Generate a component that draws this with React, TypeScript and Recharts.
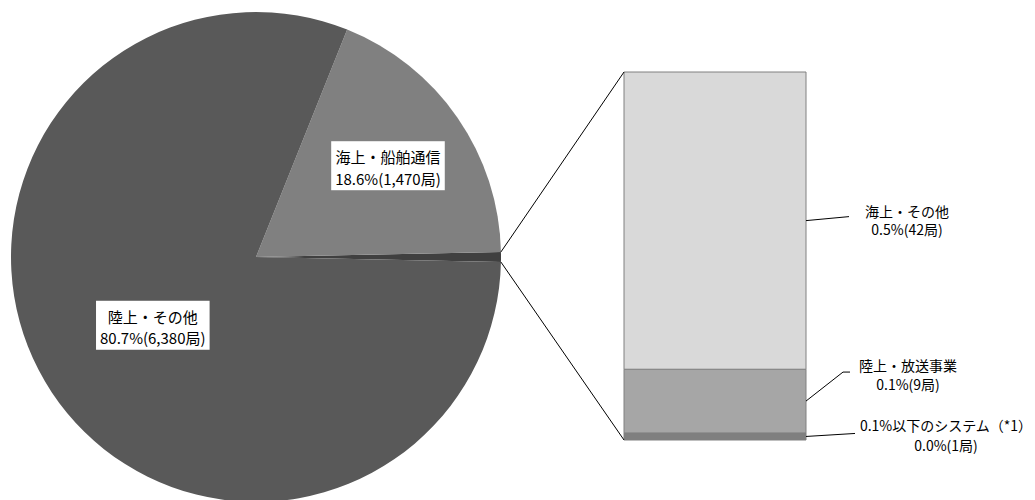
import React from 'react'
import { PieChart, Pie, Cell, BarChart, Bar, XAxis, YAxis } from 'recharts'

const W = 1035
const H = 500
const FONT = "'Noto Sans CJK JP', 'Noto Sans CJK SC', sans-serif"

// 円グラフ: 先頭の「その他」が右側の棒に展開される
const mainNames = ['海上・船舶通信', '陸上・その他']
const mainCounts = [1470, 6380]
const mainColors = ['#808080', '#595959']
const otherColor = '#404040'

// 棒グラフ (下から積み上げ)
const detailNames = ['0.1%以下のシステム（*1）', '陸上・放送事業', '海上・その他']
const detailCounts = [1, 9, 42]
const detailColors = ['#7f7f7f', '#a6a6a6', '#d9d9d9']

const otherTotal = detailCounts.reduce((s, v) => s + v, 0)
const grandTotal = otherTotal + mainCounts.reduce((s, v) => s + v, 0)

const pieData = [
  { name: 'その他', value: otherTotal },
  ...mainNames.map((name, i) => ({ name, value: mainCounts[i] })),
]
const barRow: Record<string, string | number> = { name: 'その他' }
detailCounts.forEach((v, i) => (barRow[`d${i}`] = v))
const barData = [barRow]

// layout
const PIE_CX = 256
const PIE_CY = 257
const PIE_R = 245
const PIE_LABEL_RADIUS = [0, 0.655, 0.505]
const BAR_LEFT = 624
const BAR_RIGHT = 806
const BAR_TOP = 72
const BAR_BOTTOM = 440

// leader line end / text anchor for each bar label, relative to segment's right-middle
const barLabelLayout = [
  { ex: 49, ey: -3, hx: 0, tx: 140, t1: -11.5, t2: 8.5 },
  { ex: 37, ey: -29, hx: 7, tx: 102, t1: -36, t2: -17 },
  { ex: 43, ey: -4, hx: 0, tx: 101, t1: -9.5, t2: 8.5 },
]

const pct = (v: number) => ((v / grandTotal) * 100).toFixed(1)
const fmt = (v: number) => v.toLocaleString('en-US')

const measureCtx =
  typeof document !== 'undefined' ? document.createElement('canvas').getContext('2d') : null
function textWidth(s: string, size: number) {
  if (!measureCtx) return s.length * size
  measureCtx.font = `${size}px ${FONT}`
  return measureCtx.measureText(s).width
}

const PIE_FONT = 15
const BAR_FONT = 14

function renderPieLabel(p: any) {
  const { cx, cy, midAngle, outerRadius, index, value } = p
  if (index === 0) return <g key="pl0" />
  const r = outerRadius * PIE_LABEL_RADIUS[index]
  const rad = (midAngle * Math.PI) / 180
  const x = cx + r * Math.cos(rad)
  const y = cy - r * Math.sin(rad)
  const line1 = mainNames[index - 1]
  const line2 = `${pct(value)}%(${fmt(value)}局)`
  const w = Math.max(textWidth(line1, PIE_FONT), textWidth(line2, PIE_FONT)) + 8
  return (
    <g key={`pl${index}`}>
      <rect x={x - w / 2} y={y - 24.5} width={w} height={49} fill="#ffffff" />
      <text x={x} y={y - 9} textAnchor="middle" dominantBaseline="central" fontSize={PIE_FONT} fontFamily={FONT} fill="#000">
        {line1}
      </text>
      <text x={x} y={y + 12.5} textAnchor="middle" dominantBaseline="central" fontSize={PIE_FONT} fontFamily={FONT} fill="#000">
        {line2}
      </text>
    </g>
  )
}

function barLabel(i: number) {
  return (p: any) => {
    const x0 = Number(p.x) + Number(p.width)
    const y0 = Number(p.y) + Number(p.height) / 2
    const l = barLabelLayout[i]
    const v = detailCounts[i]
    return (
      <g key={`bl${i}`}>
        <polyline
          points={`${x0},${y0} ${x0 + l.ex},${y0 + l.ey} ${x0 + l.ex + l.hx},${y0 + l.ey}`}
          fill="none"
          stroke="#000"
          strokeWidth={1}
        />
        <text x={x0 + l.tx} y={y0 + l.t1} textAnchor="middle" dominantBaseline="central" fontSize={BAR_FONT} fontFamily={FONT} fill="#000">
          {detailNames[i]}
        </text>
        <text x={x0 + l.tx} y={y0 + l.t2} textAnchor="middle" dominantBaseline="central" fontSize={BAR_FONT} fontFamily={FONT} fill="#000">
          {`${pct(v)}%(${fmt(v)}局)`}
        </text>
      </g>
    )
  }
}

export default function App() {
  // "その他" slice is centred on the horizontal axis
  const halfOther = ((otherTotal / grandTotal) * 360) / 2
  const rad = (halfOther * Math.PI) / 180
  const edgeX = PIE_CX + PIE_R * Math.cos(rad)
  const edgeUp = PIE_CY - PIE_R * Math.sin(rad)
  const edgeDown = PIE_CY + PIE_R * Math.sin(rad)

  return (
    <div style={{ position: 'relative', width: W, height: H, background: '#fff', overflow: 'hidden' }}>
      <style>{`body{margin:0}`}</style>
      <div style={{ position: 'absolute', left: 0, top: 0 }}>
        <PieChart width={W} height={H} margin={{ top: 0, right: 0, bottom: 0, left: 0 }}>
          <Pie
            data={pieData}
            dataKey="value"
            cx={PIE_CX}
            cy={PIE_CY}
            outerRadius={PIE_R}
            innerRadius={0}
            startAngle={-halfOther}
            endAngle={360 - halfOther}
            stroke="none"
            label={renderPieLabel}
            labelLine={false}
            isAnimationActive={false}
          >
            <Cell fill={otherColor} />
            {mainColors.map((c) => (
              <Cell key={c} fill={c} />
            ))}
          </Pie>
        </PieChart>
      </div>
      <div style={{ position: 'absolute', left: 0, top: 0 }}>
        <BarChart
          width={W}
          height={H}
          data={barData}
          barCategoryGap={0}
          margin={{ top: BAR_TOP, right: W - BAR_RIGHT, bottom: H - BAR_BOTTOM, left: BAR_LEFT }}
        >
          <XAxis dataKey="name" hide />
          <YAxis hide domain={[0, otherTotal]} />
          {detailCounts.map((_, i) => (
            <Bar
              key={i}
              dataKey={`d${i}`}
              stackId="other"
              fill={detailColors[i]}
              stroke="#808080"
              strokeWidth={1}
              label={barLabel(i)}
              isAnimationActive={false}
            />
          ))}
        </BarChart>
      </div>
      <svg width={W} height={H} style={{ position: 'absolute', left: 0, top: 0, pointerEvents: 'none' }}>
        <line x1={edgeX} y1={edgeUp} x2={BAR_LEFT} y2={BAR_TOP} stroke="#000" strokeWidth={1} />
        <line x1={edgeX} y1={edgeDown} x2={BAR_LEFT} y2={BAR_BOTTOM} stroke="#000" strokeWidth={1} />
      </svg>
    </div>
  )
}
